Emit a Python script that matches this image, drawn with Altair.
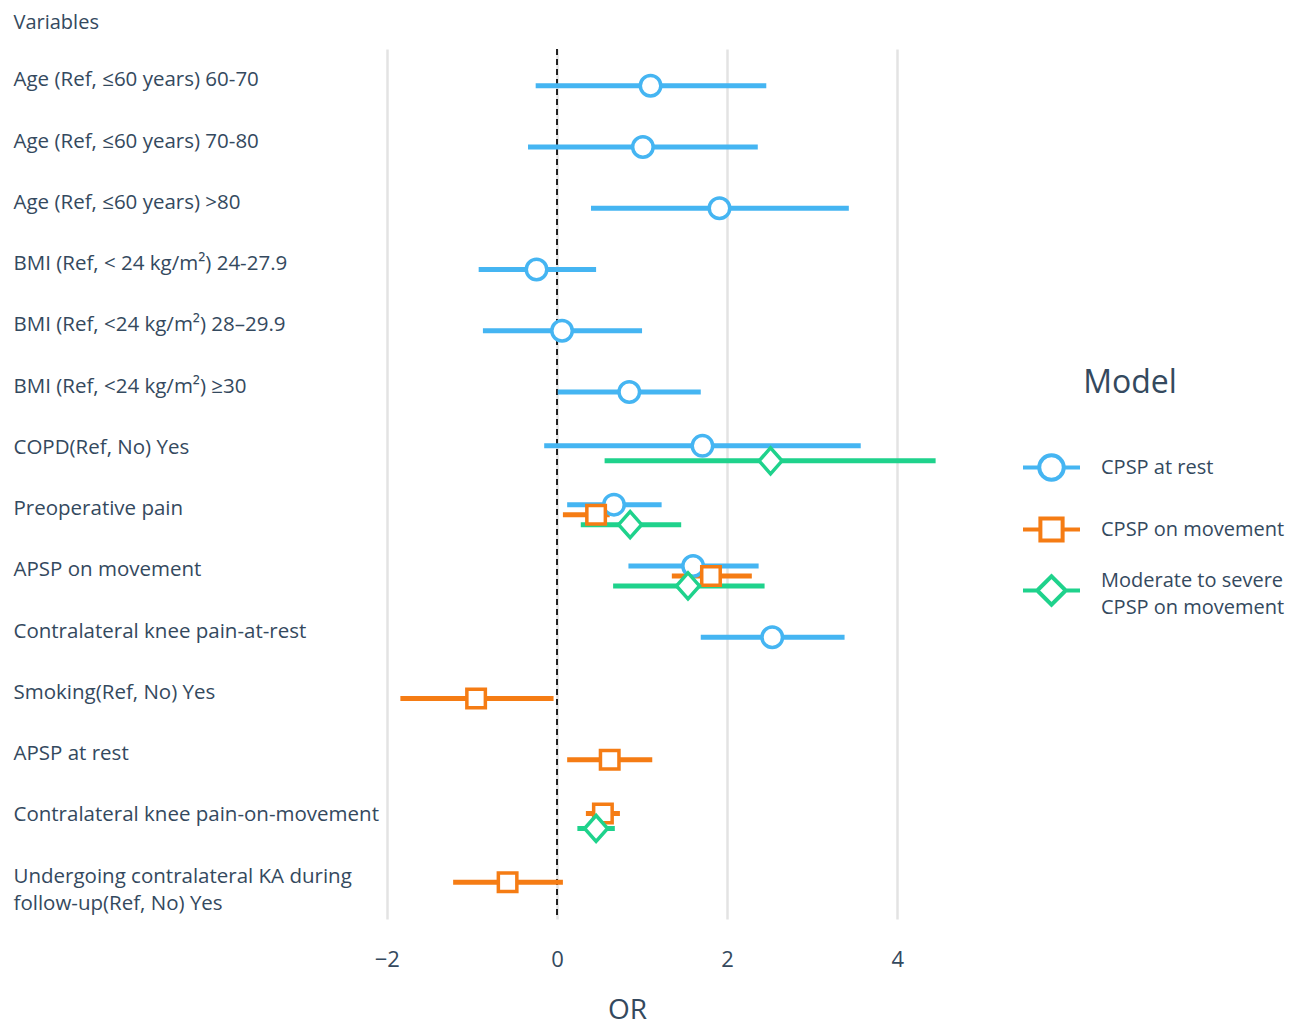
import altair as alt
import pandas as pd

FONT = "Open Sans"
TXT = "#34495e"

variables = [
    "Age (Ref, ≤60 years) 60-70",
    "Age (Ref, ≤60 years) 70-80",
    "Age (Ref, ≤60 years) >80",
    "BMI (Ref, < 24 kg/m²) 24-27.9",
    "BMI (Ref, <24 kg/m²) 28–29.9",
    "BMI (Ref, <24 kg/m²) ≥30",
    "COPD(Ref, No) Yes",
    "Preoperative pain",
    "APSP on movement",
    "Contralateral knee pain-at-rest",
    "Smoking(Ref, No) Yes",
    "APSP at rest",
    "Contralateral knee pain-on-movement",
    "Undergoing contralateral KA during\nfollow-up(Ref, No) Yes",
]

models = ["CPSP at rest", "CPSP on movement", "Moderate to severe\nCPSP on movement"]
colors = ["#45B5F2", "#F57C14", "#1FD28C"]

# CPSP at rest
rest_rows = variables[0:10]
rest_est = [1.10, 1.01, 1.91, -0.24, 0.06, 0.85, 1.71, 0.67, 1.60, 2.53]
rest_low = [-0.25, -0.34, 0.40, -0.92, -0.87, 0.01, -0.15, 0.12, 0.84, 1.69]
rest_high = [2.46, 2.36, 3.43, 0.46, 1.00, 1.69, 3.57, 1.23, 2.37, 3.38]

# CPSP on movement
move_rows = [variables[i] for i in (7, 8, 10, 11, 12, 13)]
move_est = [0.46, 1.81, -0.95, 0.62, 0.54, -0.58]
move_low = [0.07, 1.35, -1.84, 0.12, 0.34, -1.22]
move_high = [0.62, 2.29, -0.04, 1.12, 0.74, 0.07]

# Moderate to severe CPSP on movement
mod_rows = [variables[i] for i in (6, 7, 8, 12)]
mod_est = [2.51, 0.86, 1.54, 0.46]
mod_low = [0.56, 0.28, 0.66, 0.24]
mod_high = [4.45, 1.46, 2.44, 0.68]

x_ticks = [-2, 0, 2, 4]

frames = []
for m, rows, est, low, high in [
    (models[0], rest_rows, rest_est, rest_low, rest_high),
    (models[1], move_rows, move_est, move_low, move_high),
    (models[2], mod_rows, mod_est, mod_low, mod_high),
]:
    frames.append(pd.DataFrame({"variable": rows, "model": m, "est": est, "low": low, "high": high}))
df = pd.concat(frames, ignore_index=True)
df["morder"] = df["model"].map({m: i for i, m in enumerate(models)})
df = df.sort_values(["variable", "morder"])
df["k"] = df.groupby("variable").cumcount()
df["n"] = df.groupby("variable")["model"].transform("count")
df["off"] = (df["k"] + 0.5) / df["n"] - 0.5
df = df.drop(columns=["morder", "k", "n"])

x_scale = alt.Scale(domain=[-2.15, 4.76], nice=False, zero=False)
x_axis = alt.Axis(
    values=x_ticks, title="OR", grid=True, gridColor="#e3e3e3", gridWidth=2.5,
    ticks=False, domain=False, labelFontSize=22, labelPadding=30,
    titleFontSize=28, titleFontWeight="normal", titleX=253, titleY=91,
    titleBaseline="middle", titleAlign="center",
)
y_enc = alt.Y(
    "variable:N",
    sort=variables,
    scale=alt.Scale(type="point", padding=0.6, domain=variables),
    axis=alt.Axis(
        title="Variables", titleAngle=0, titleAlign="left", titleX=-361, titleY=-27,
        titleBaseline="middle", titleFontSize=20, titleFontWeight="normal",
        labelAlign="left", labelPadding=361, labelFontSize=20.5, labelLimit=420,
        labelExpr="split(datum.label, '\\n')", labelLineHeight=27, labelOffset=-6,
        ticks=False, domain=False, grid=False,
    ),
)
yoff = alt.YOffset("off:Q", scale=alt.Scale(domain=[-0.5, 0.5], range=[-15, 15]))
color_nolegend = alt.Color("model:N", scale=alt.Scale(domain=models, range=colors), legend=None)

base = alt.Chart(df)

zero_line = alt.Chart(df).mark_rule(color="#222222", strokeDash=[6, 4], strokeWidth=1.5).encode(
    x=alt.X(datum=0, scale=x_scale, axis=x_axis)
)

rules = base.mark_rule(strokeWidth=5, strokeCap="butt").encode(
    x=alt.X("low:Q", scale=x_scale, axis=x_axis),
    x2="high:Q",
    y=y_enc,
    yOffset=yoff,
    color=color_nolegend,
)

point_paths = [
    "M0.41,0A0.41,0.41,0,1,1,-0.41,0A0.41,0.41,0,1,1,0.41,0Z",
    "M-0.37,-0.37H0.37V0.37H-0.37Z",
    "M-0.46,0L0,-0.52L0.46,0L0,0.52Z",
]
points = base.mark_point(filled=False, strokeWidth=3.5, opacity=1, size=2500).encode(
    x=alt.X("est:Q", scale=x_scale, axis=x_axis),
    y=y_enc,
    yOffset=yoff,
    color=color_nolegend,
    fill=alt.value("white"),
    shape=alt.Shape("model:N", scale=alt.Scale(domain=models, range=point_paths), legend=None),
)

legend_paths = [
    "M-1,0H-0.43M0.43,0H1M0.43,0A0.43,0.43,0,1,1,-0.43,0A0.43,0.43,0,1,1,0.43,0Z",
    "M-1,0H-0.39M0.39,0H1M-0.39,-0.39H0.39V0.39H-0.39Z",
    "M-1,0H-0.5M0.5,0H1M-0.5,0L0,-0.5L0.5,0L0,0.5Z",
]
legend_def = alt.Legend(
    title="Model\u2800\u2800", orient="none", legendX=647, legendY=319,
    titleFontSize=32, titleFontWeight="normal", titleColor=TXT, titleAnchor="middle",
    titleAlign="center", titlePadding=37, labelFontSize=20, labelColor=TXT, labelOffset=19,
    labelLimit=300, labelExpr="split(datum.label, '\\n')",
    labelBaseline={"expr": "indexof(datum.label, '\\n') >= 0 ? 'bottom' : 'middle'"},
    symbolSize=3249, symbolStrokeWidth=4, symbolFillColor="white", rowPadding=11, padding=0,
)
legend_layer = base.transform_filter("false").mark_point(filled=False, strokeWidth=4, size=3249, opacity=1).encode(
    color=alt.Color("model:N", scale=alt.Scale(domain=models, range=colors), legend=legend_def),
    shape=alt.Shape("model:N", scale=alt.Scale(domain=models, range=legend_paths), legend=legend_def),
    fill=alt.value("white"),
)

chart = (
    alt.layer(zero_line, rules, points, legend_layer)
    .resolve_scale(color="independent", shape="independent")
    .properties(
        width=588, height=870, background="white",
        padding={"left": 5, "top": 4, "right": 0, "bottom": 0},
    )
    .configure(font=FONT, style={"guide-label": {"lineHeight": 27}})
    .configure_view(strokeWidth=0, stroke="transparent")
    .configure_axis(labelColor=TXT, titleColor=TXT, labelFont=FONT, titleFont=FONT)
    .configure_legend(labelFont=FONT, titleFont=FONT)
)

chart.save("out.html", embed_options={"renderer": "svg", "actions": False})
